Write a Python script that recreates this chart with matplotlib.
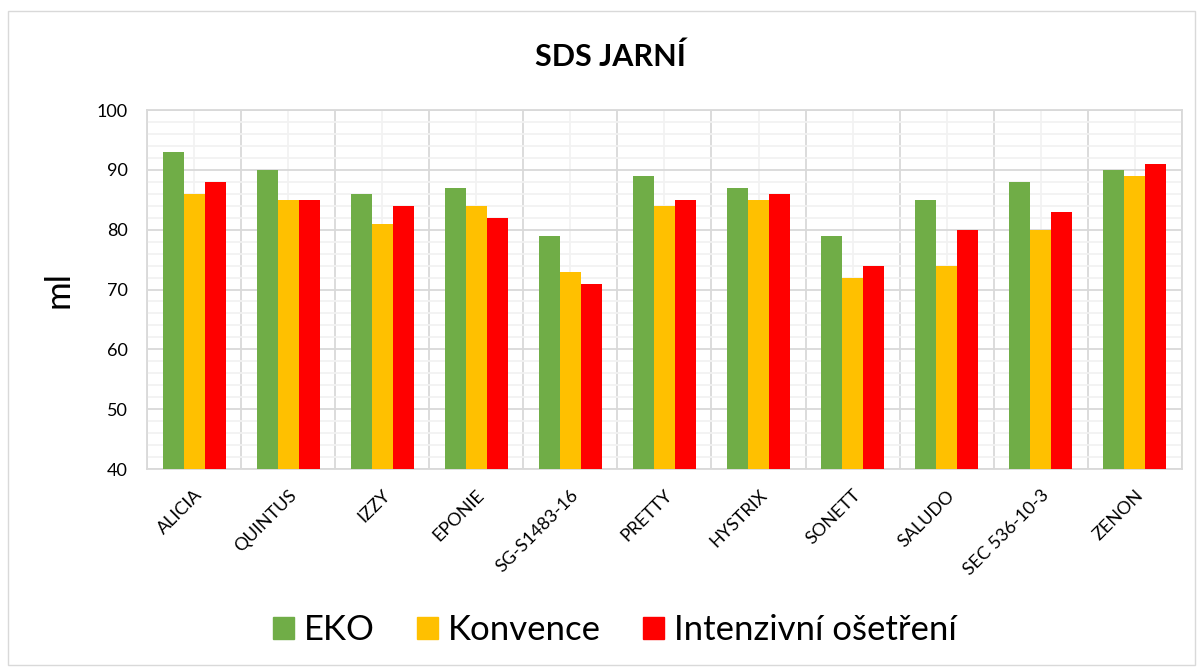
import matplotlib.pyplot as plt
import matplotlib.patches as mpatches
from matplotlib.ticker import MultipleLocator
import numpy as np

plt.rcParams['font.family'] = ['Lato', 'DejaVu Sans']

varieties = ["ALICIA", "QUINTUS", "IZZY", "EPONIE", "SG-S1483-16", "PRETTY",
             "HYSTRIX", "SONETT", "SALUDO", "SEC 536-10-3", "ZENON"]
eko = [93, 90, 86, 87, 79, 89, 87, 79, 85, 88, 90]
konvence = [86, 85, 81, 84, 73, 84, 85, 72, 74, 80, 89]
intenzivni = [88, 85, 84, 82, 71, 85, 86, 74, 80, 83, 91]

series = [("EKO", eko, "#70AD47"),
          ("Konvence", konvence, "#FFC000"),
          ("Intenzivní ošetření", intenzivni, "#FF0000")]

fig = plt.figure(figsize=(12.01, 6.70), dpi=100)
ax = fig.add_axes([0.1224, 0.30, 0.8617, 0.5358])

x = np.arange(len(varieties))
w = 0.223
for i, (name, vals, color) in enumerate(series):
    ax.bar(x + (i - 1) * w, np.array(vals) - 40, w, bottom=40, color=color,
           label=name, zorder=3)

ax.set_xlim(-0.5, len(varieties) - 0.5)
ax.set_ylim(40, 100)
ax.yaxis.set_major_locator(MultipleLocator(10))
ax.yaxis.set_minor_locator(MultipleLocator(2))
ax.set_xticks(x)
ax.set_xticks(np.arange(len(varieties) + 1) - 0.5, minor=True)
ax.set_xticklabels(varieties, rotation=45, ha="right", rotation_mode="anchor",
                   fontsize=13)
ax.tick_params(axis="y", labelsize=13, length=0, pad=14)
ax.tick_params(axis="x", which="both", length=0, pad=13)
ax.tick_params(axis="y", which="minor", length=0)

ax.grid(axis="y", which="major", color="#D9D9D9", linewidth=1.3, zorder=0)
ax.grid(axis="y", which="minor", color="#F2F2F2", linewidth=1.3, zorder=0)
ax.grid(axis="x", which="minor", color="#D9D9D9", linewidth=1.3, zorder=0)
ax.grid(axis="x", which="major", color="#F2F2F2", linewidth=1.3, zorder=0)
ax.set_axisbelow(True)
for s in ax.spines.values():
    s.set_color("#D9D9D9")
    s.set_linewidth(1.3)

ax.set_ylabel("ml", fontsize=25, labelpad=16)
fig.text(0.508, 0.916, "SDS JARNÍ", ha="center", va="center",
         fontsize=22, fontweight="bold")

handles = [mpatches.Patch(color=c, label=n) for n, _, c in series]
fig.legend(handles=handles, loc="center", bbox_to_anchor=(0.512, 0.06),
           ncol=3, frameon=False, fontsize=25, handlelength=0.6,
           handleheight=0.6, handletextpad=0.3, columnspacing=1.2)

fig.patches.append(mpatches.Rectangle((0.007, 0.008), 0.988, 0.975,
                                      transform=fig.transFigure, fill=False,
                                      edgecolor="#D9D9D9", linewidth=1))

fig.savefig("out.png", dpi=100)
